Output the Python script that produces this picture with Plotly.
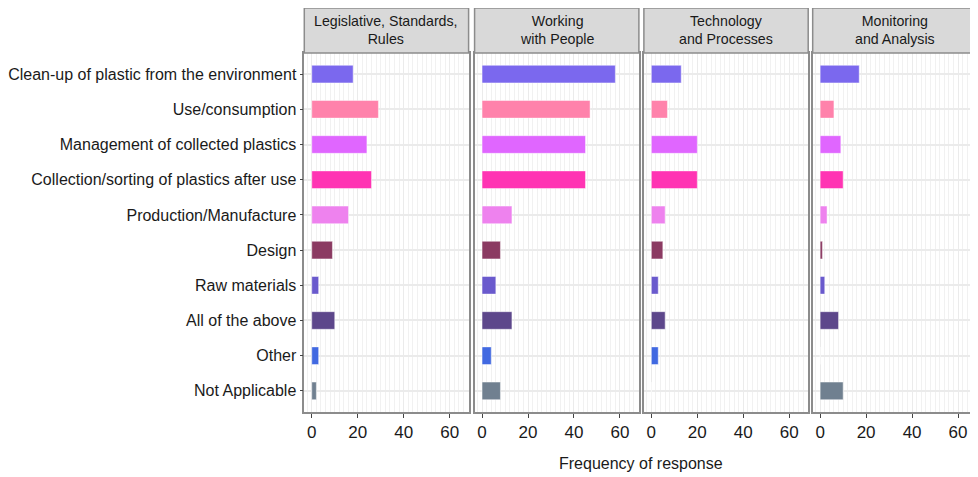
import plotly.graph_objects as go

categories = ["Clean-up of plastic from the environment", "Use/consumption",
              "Management of collected plastics", "Collection/sorting of plastics after use",
              "Production/Manufacture", "Design", "Raw materials", "All of the above",
              "Other", "Not Applicable"]
colors = ["#7B68EE", "#FF82AB", "#E066FF", "#FF34B3", "#EE82EE",
          "#8B3A62", "#6A5ACD", "#5D478B", "#4169E1", "#708090"]
panels = ["Legislative, Standards,<br>Rules", "Working<br>with People",
          "Technology<br>and Processes", "Monitoring<br>and Analysis"]
legislative = [18, 29, 24, 26, 16, 9, 3, 10, 3, 2]
working = [58, 47, 45, 45, 13, 8, 6, 13, 4, 8]
technology = [13, 7, 20, 20, 6, 5, 3, 6, 3, 0]
monitoring = [17, 6, 9, 10, 3, 1, 2, 8, 0, 10]
series = [legislative, working, technology, monitoring]
x_ticks = [0, 20, 40, 60]

# page body has an 8px margin: work in reference pixel coords minus 8
OFF = 8
W, H = 978 - OFF, 477 - OFF
px_left = [302.5 - OFF, 473.5 - OFF, 643.5 - OFF, 813 - OFF]
pw = 165
y_top, y_bot = 53 - OFF, 412 - OFF
strip_top = 7.5 - OFF

fig = go.Figure()
layout = dict(width=W, height=H, margin=dict(l=0, r=0, t=0, b=0),
              paper_bgcolor="white", plot_bgcolor="white", showlegend=False,
              font=dict(family="Liberation Sans, Arial, sans-serif", color="#1a1a1a"),
              bargap=0.5)
shapes, annotations = [], []
border = "#8C8C8C"
for i, (vals, title) in enumerate(zip(series, panels)):
    n = "" if i == 0 else str(i + 1)
    fig.add_trace(go.Bar(y=categories, x=vals, orientation="h",
                         marker=dict(color=colors, line=dict(color="rgba(255,255,255,0.45)", width=1)),
                         width=0.5, xaxis="x" + n, yaxis="y" + n, hoverinfo="x+y"))
    x0 = px_left[i] / W
    x1 = min(1.0, (px_left[i] + pw) / W)
    layout["xaxis" + n] = dict(domain=[x0, x1], range=[-3.25, 68.25], anchor="y" + n,
                               tickvals=x_ticks, ticks="outside", ticklen=4, tickcolor="#444",
                               tickfont=dict(size=17, color="#1a1a1a"),
                               showgrid=True, gridcolor="#EBEBEB", gridwidth=1.2,
                               minor=dict(dtick=2, tick0=0, showgrid=True, gridcolor="#F1F1F1", gridwidth=1),
                               showline=True, mirror=True, linecolor=border, linewidth=1.5,
                               zeroline=False, fixedrange=True)
    layout["yaxis" + n] = dict(domain=[1 - y_bot / H, 1 - y_top / H], anchor="x" + n,
                               type="category", categoryorder="array", categoryarray=categories,
                               range=[9.6, -0.6], showgrid=True, gridcolor="#EBEBEB", gridwidth=1.5,
                               showline=True, mirror=True, linecolor=border, linewidth=1.5,
                               showticklabels=(i == 0), ticks="outside" if i == 0 else "",
                               ticklen=3, tickcolor="#444",
                               tickfont=dict(size=16, color="#1a1a1a"), fixedrange=True)
    shapes.append(dict(type="rect", xref="paper", yref="paper", x0=x0, x1=x1,
                       y0=1 - y_top / H, y1=min(1.0, 1 - strip_top / H),
                       fillcolor="#D9D9D9", line=dict(color=border, width=1.5), layer="above"))
    annotations.append(dict(text=title, xref="paper", yref="paper", x=(x0 + x1) / 2,
                            y=1 - (strip_top + y_top) / 2 / H, showarrow=False,
                            xanchor="center", yanchor="middle",
                            font=dict(size=14.2, color="#1a1a1a")))
annotations.append(dict(text="Frequency of response", xref="paper", yref="paper",
                        x=(641 - OFF) / W, y=1 - (463 - OFF) / H,
                        showarrow=False, xanchor="center", yanchor="middle",
                        font=dict(size=16, color="#1a1a1a")))
layout["shapes"] = shapes
layout["annotations"] = annotations
fig.update_layout(**layout)
fig.write_html("out.html")
